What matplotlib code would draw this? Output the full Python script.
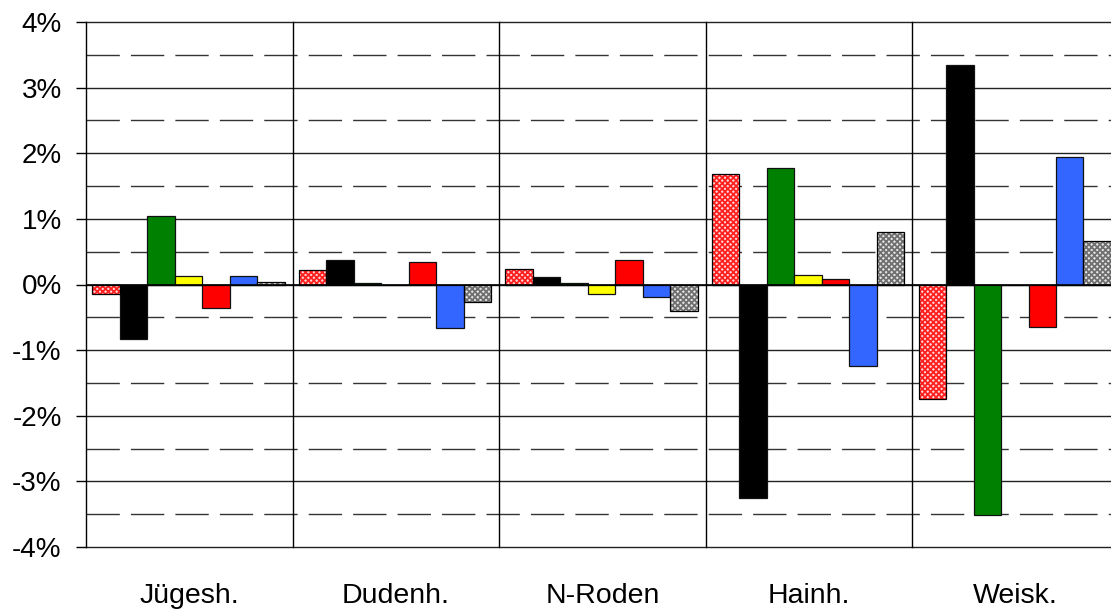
import numpy as np
import matplotlib
matplotlib.use("Agg")
import matplotlib.pyplot as plt
from matplotlib.ticker import FixedLocator, FuncFormatter

plt.rcParams['font.family'] = ['Liberation Sans', 'DejaVu Sans']
plt.rcParams['hatch.linewidth'] = 1.3

# data (percent change per site, seven series)
sites = ['Jügesh.', 'Dudenh.', 'N-Roden', 'Hainh.', 'Weisk.']
s_lightred = [-0.14, 0.22, 0.24, 1.68, -1.74]
s_black = [-0.83, 0.37, 0.11, -3.26, 3.34]
s_green = [1.05, 0.02, 0.02, 1.77, -3.51]
s_yellow = [0.13, -0.01, -0.15, 0.14, -0.01]
s_red = [-0.36, 0.34, 0.38, 0.09, -0.65]
s_blue = [0.13, -0.67, -0.19, -1.24, 1.94]
s_gray = [0.04, -0.26, -0.40, 0.80, 0.66]

series = [
    (s_lightred, '#ffd6d6', '#ff2020', 'xxxxxx'),
    (s_black, 'black', None, None),
    (s_green, '#008000', None, None),
    (s_yellow, '#ffff00', None, None),
    (s_red, '#ff0000', None, None),
    (s_blue, '#3366ff', None, None),
    (s_gray, '#e6e6e6', '#707070', 'xxxxxx'),
]

fig = plt.figure(figsize=(11.11, 6.10), dpi=100)
ax = fig.add_axes([86 / 1111, (610 - 547) / 610, (1119 - 86) / 1111, (547 - 22) / 610])

n = len(sites)
x = np.arange(n)
bw = 0.133
off = 0.03

# grid
for v in np.arange(-4, 4.01, 1):
    ax.axhline(v, color='#222222', lw=1.0, zorder=1, clip_on=False)
for v in np.arange(-3.5, 3.6, 1):
    ax.axhline(v, color='#333333', lw=1.0, zorder=1, dashes=(24, 8))
for b in range(n + 1):
    ax.axvline(b, color='black', lw=1.0, zorder=1, clip_on=False)

for k, (vals, fc, hc, hatch) in enumerate(series):
    xs = x + off + k * bw
    if hatch:
        ax.bar(xs, vals, width=bw, align='edge', color=fc, edgecolor=hc,
               hatch=hatch, lw=0, zorder=3)
        ax.bar(xs, vals, width=bw, align='edge', color='none',
               edgecolor='black', lw=0.9, zorder=4)
    else:
        ax.bar(xs, vals, width=bw, align='edge', color=fc,
               edgecolor='#111111', lw=0.9, zorder=3)

ax.axhline(0, color='black', lw=1.2, zorder=5)

ax.set_xlim(0, n)
ax.set_ylim(-4, 4)
ax.yaxis.set_major_locator(FixedLocator(np.arange(-4, 4.01, 1)))
ax.yaxis.set_major_formatter(FuncFormatter(lambda v, p: f'{v:.0f}%'))
ax.set_xticks(x + 0.5)
ax.set_xticklabels(sites)
ax.tick_params(axis='x', length=0, pad=26, labelsize=20.5)
ax.tick_params(axis='y', length=7.5, width=1, pad=10, labelsize=20, direction='out')
for s in ax.spines.values():
    s.set_visible(False)

fig.savefig('out.png', dpi=100)
